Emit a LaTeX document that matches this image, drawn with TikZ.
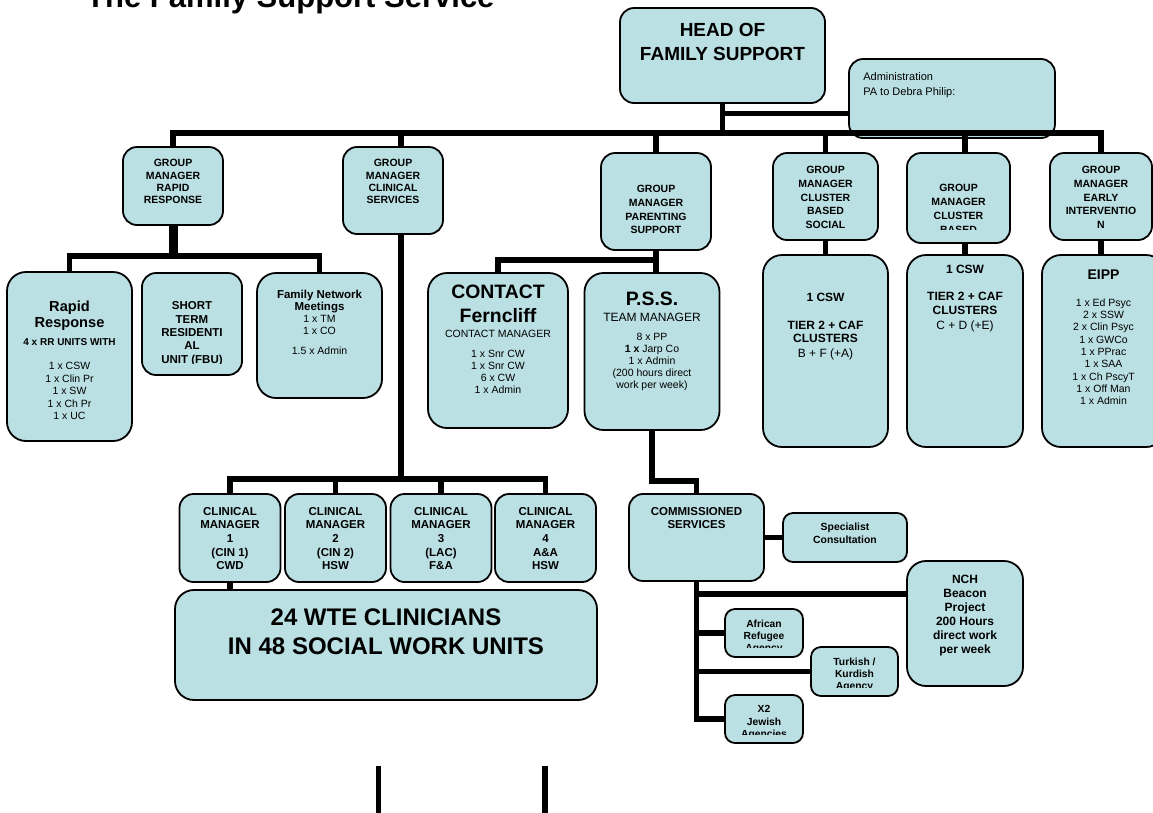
\documentclass[tikz,border=0pt]{standalone}
\usepackage{fontspec}
\setmainfont{Liberation Sans}
\usepackage{xcolor}
\usetikzlibrary{positioning,calc}
\definecolor{boxblue}{RGB}{187,224,227}

\begin{document}
\begin{tikzpicture}[x=1pt,y=-1pt,
    box/.style={draw, line width=1.8pt, fill=boxblue, rounded corners=14pt, inner sep=0pt},
    bigbox/.style={box, rounded corners=19pt},
    smallbox/.style={box, rounded corners=10pt},
    conn/.style={line width=5.5pt},
    tx/.style 2 args={inner sep=0pt, align=center, font=\fontsize{#1}{#2}\selectfont},
    bx/.style 2 args={inner sep=0pt, align=center, font=\bfseries\fontsize{#1}{#2}\selectfont}]
    \useasboundingbox (0,0) rectangle (1153,812);

    \node[anchor=base west, inner sep=0pt, font=\bfseries\fontsize{31}{36}\selectfont] (title) at (86,7.5) {The Family Support Service};

    % top
    \node[box, minimum width=205, minimum height=95] (head) at (722.5,55.5) {};
    \node[bx={19}{24}, below=16pt of head.north] (head-t) {HEAD OF\\FAMILY SUPPORT};
    \node[box, minimum width=206, minimum height=79] (admin) at (952,98.5) {};
    \node[tx={11}{15.2}, align=left, below right=14pt and 15pt of admin.north west] (admin-t) {Administration\\PA to Debra Philip:};

    % group managers
    \node[box, minimum width=100, minimum height=78] (gm1) at (173,186) {};
    \node[bx={10.5}{12.3}, below=13.3pt of gm1.north] (gm1-t) {GROUP\\MANAGER\\RAPID\\RESPONSE};
    \node[box, minimum width=100, minimum height=87] (gm2) at (393,190.5) {};
    \node[bx={10.5}{12.3}, below=13.3pt of gm2.north] (gm2-t) {GROUP\\MANAGER\\CLINICAL\\SERVICES};
    \node[box, minimum width=110, minimum height=97] (gm3) at (656,201.5) {};
    \node[bx={10.5}{13.9}, below=32.6pt of gm3.north] (gm3-t) {GROUP\\MANAGER\\PARENTING\\SUPPORT};
    \node[box, minimum width=105, minimum height=87] (gm4) at (825.5,196.5) {};
    \begin{scope}
        \clip (gm4.north west) rectangle ($(gm4.south east)+(0,-12)$);
        \node[bx={10.5}{13.8}, below=13.8pt of gm4.north] (gm4-t) {GROUP\\MANAGER\\CLUSTER\\BASED\\SOCIAL};
    \end{scope}
    \node[box, minimum width=103, minimum height=90] (gm5) at (958.5,198) {};
    \begin{scope}
        \clip (gm5.north west) rectangle ($(gm5.south east)+(0,-14)$);
        \node[bx={10.5}{13.8}, below=32.3pt of gm5.north] (gm5-t) {GROUP\\MANAGER\\CLUSTER\\BASED};
    \end{scope}
    \node[box, minimum width=102, minimum height=87] (gm6) at (1101,196.5) {};
    \begin{scope}
        \clip (gm6.north west) rectangle ($(gm6.south east)+(0,-11)$);
        \node[bx={10.5}{13.8}, below=13.8pt of gm6.north] (gm6-t) {GROUP\\MANAGER\\EARLY\\INTERVENTIO\\N};
    \end{scope}

    % rapid response
    \node[bigbox, minimum width=125, minimum height=169] (rr) at (69.5,356.5) {};
    \node[bx={14.6}{16.3}, below=29.5pt of rr.north] (rr-t) {Rapid\\Response};
    \node[bx={10}{12}, below=67.4pt of rr.north] (rr-s) {4 x RR UNITS WITH};
    \node[tx={10.5}{12.5}, below=91pt of rr.north] (rr-l) {1 x CSW\\1 x Clin Pr\\1 x SW\\1 x Ch Pr\\1 x UC};
    \node[box, minimum width=100, minimum height=102] (stru) at (192,324) {};
    \begin{scope}
        \clip (stru.north west) rectangle ($(stru.south east)+(0,-12)$);
        \node[bx={11.5}{13.3}, below=29.6pt of stru.north] (stru-t) {SHORT\\TERM\\RESIDENTI\\AL\\UNIT (FBU)};
    \end{scope}
    \node[bigbox, minimum width=125, minimum height=125] (fnm) at (319.5,335.5) {};
    \node[bx={11.5}{11.7}, below=18pt of fnm.north] (fnm-t) {Family Network\\Meetings};
    \node[tx={10.5}{11.7}, below=43.3pt of fnm.north] (fnm-l) {1 x TM\\1 x CO};
    \node[tx={10.5}{12}, below=75pt of fnm.north] (fnm-a) {1.5 x Admin};

    % parenting
    \node[bigbox, minimum width=140, minimum height=155] (con) at (498,350.5) {};
    \node[bx={19.4}{24}, below=13pt of con.north] (con-t) {CONTACT\\Ferncliff};
    \node[tx={10.5}{12}, below=58.3pt of con.north] (con-m) {CONTACT MANAGER};
    \node[tx={10.5}{11.7}, below=78.3pt of con.north] (con-l) {1 x Snr CW\\1 x Snr CW\\6 x CW\\1 x Admin};
    \node[bigbox, minimum width=135, minimum height=157] (pss) at (652,351.5) {};
    \node[bx={19.4}{24}, below=20pt of pss.north] (pss-t) {P.S.S.};
    \node[tx={12}{14}, below=40.7pt of pss.north] (pss-m) {TEAM MANAGER};
    \node[tx={10.5}{12}, below=61.3pt of pss.north] (pss-l) {8 x PP\\\textbf{1 x} Jarp Co\\1 x Admin\\(200 hours direct\\work per week)};

    % clusters and EIPP
    \node[bigbox, minimum width=125, minimum height=192] (soc) at (825.5,351) {};
    \node[bx={12}{13.5}, below=38.7pt of soc.north] (soc-a) {1 CSW};
    \node[bx={12}{13.5}, below=66.7pt of soc.north] (soc-b) {TIER 2 + CAF\\CLUSTERS};
    \node[tx={12}{14}, below=94.5pt of soc.north] (soc-c) {B + F (+A)};
    \node[bigbox, minimum width=116, minimum height=192] (clu) at (965,351) {};
    \node[bx={12}{13.5}, below=10.7pt of clu.north] (clu-a) {1 CSW};
    \node[bx={12}{14}, below=37.4pt of clu.north] (clu-b) {TIER 2 + CAF\\CLUSTERS};
    \node[tx={12}{14}, below=66.7pt of clu.north] (clu-c) {C + D (+E)};
    \node[bigbox, minimum width=123, minimum height=192] (eipp) at (1103.5,351) {};
    \node[bx={14}{16}, below=16pt of eipp.north] (eipp-t) {EIPP};
    \node[tx={10.5}{12.3}, below=44.3pt of eipp.north] (eipp-l) {1 x Ed Psyc\\2 x SSW\\2 x Clin Psyc\\1 x GWCo\\1 x PPrac\\1 x SAA\\1 x Ch PscyT\\1 x Off Man\\1 x Admin};

    % clinical managers
    \foreach \i/\x/\a/\b in {1/230/(CIN 1)/CWD, 2/335.5/(CIN 2)/HSW, 3/441/(LAC)/F\&A, 4/545.5/A\&A/HSW} {
        \node[box, minimum width=101, minimum height=88] (cm\i) at (\x,538) {};
        \node[bx={11.5}{13.7}, below=13.7pt of cm\i.north] (cm\i-t) {CLINICAL\\MANAGER\\\i\\\a\\\b};
    }
    \node[bigbox, minimum width=422, minimum height=110] (wte) at (386,645) {};
    \node[bx={24}{28.7}, below=19.5pt of wte.north] (wte-t) {24 WTE CLINICIANS\\IN 48 SOCIAL WORK UNITS};

    % commissioned services
    \node[box, minimum width=135, minimum height=87] (cs) at (696.5,537.5) {};
    \node[bx={11.5}{13.7}, below=13.8pt of cs.north] (cs-t) {COMMISSIONED\\SERVICES};
    \node[smallbox, minimum width=124, minimum height=49] (spec) at (845,537.5) {};
    \node[bx={10.4}{12.7}, below=11pt of spec.north] (spec-t) {Specialist\\Consultation};
    \node[bigbox, minimum width=116, minimum height=125] (nch) at (965,623.5) {};
    \node[bx={12}{14}, below=14.7pt of nch.north] (nch-t) {NCH\\Beacon\\Project\\200 Hours\\direct work\\per week};
    \node[smallbox, minimum width=78, minimum height=48] (afr) at (764,633) {};
    \begin{scope}
        \clip (afr.north west) rectangle ($(afr.south east)+(0,-10)$);
        \node[bx={10.3}{12.3}, below=11.3pt of afr.north] (afr-t) {African\\Refugee\\Agency};
    \end{scope}
    \node[smallbox, minimum width=87, minimum height=49] (tur) at (854.5,671.5) {};
    \begin{scope}
        \clip (tur.north west) rectangle ($(tur.south east)+(0,-9)$);
        \node[bx={10.3}{12.3}, below=11.3pt of tur.north] (tur-t) {Turkish /\\Kurdish\\Agency};
    \end{scope}
    \node[smallbox, minimum width=78, minimum height=48] (x2) at (764,719) {};
    \begin{scope}
        \clip (x2.north west) rectangle ($(x2.south east)+(0,-9)$);
        \node[bx={10.3}{12.3}, below=11.3pt of x2.north] (x2-t) {X2\\Jewish\\Agencies};
    \end{scope}

    % connectors
    \draw[conn] (head.south) -- ++(0,29) coordinate (hub);
    \coordinate (adm-in) at ($(admin.west)+(0,15)$);
    \draw[conn] (head.south |- adm-in) -- (adm-in);
    \foreach \g in {gm1,gm3,gm4,gm6}
        \draw[conn] (hub) -| (\g.north);
    \draw[conn] (hub) -| ($(gm2.north)+(8,0)$);
    \draw[conn] (hub) -| (clu.north |- gm5.north);

    \draw[conn, line width=9pt] (gm1.south) -- ++(0,30) coordinate (rr-hub);
    \draw[conn] (rr-hub) -| (rr.north);
    \draw[conn] (rr-hub) -| (fnm.north);

    \draw[conn] ($(gm2.south)+(8,0)$) -- ++(0,244) coordinate (cm-hub);
    \foreach \i in {1,...,4}
        \draw[conn] (cm-hub) -| (cm\i.north);
    \draw[conn] (cm1.south) -- (cm1.south |- wte.north);

    \draw[conn] (gm3.south) -- (gm3.south |- pss.north);
    \coordinate (ps-hub) at ($(gm3.south)+(0,9)$);
    \draw[conn] (ps-hub) -| (con.north);
    \draw[conn] (pss.south) -- ++(0,50) -| (cs.north);

    \draw[conn] (gm4.south) -- (soc.north);
    \draw[conn] (clu.north |- gm5.south) -- (clu.north);
    \draw[conn] (gm6.south) -- (gm6.south |- eipp.north);

    \draw[conn] (cs.east) -- (spec.west);
    \draw[conn] (cs.south) -- (cs.south |- x2.west) -- (x2.west);
    \coordinate (nch-in) at ($(nch.west)+(0,-29.5)$);
    \draw[conn] (cs.south |- nch-in) -- (nch-in);
    \foreach \b in {afr,tur}
        \draw[conn] (cs.south |- \b.west) -- (\b.west);

    \coordinate (cut1) at (378.5,766);
    \coordinate (cut2) at (545,766);
    \draw[conn] (cut1) -- ++(0,50);
    \draw[conn] (cut2) -- ++(0,50);
\end{tikzpicture}
\end{document}
